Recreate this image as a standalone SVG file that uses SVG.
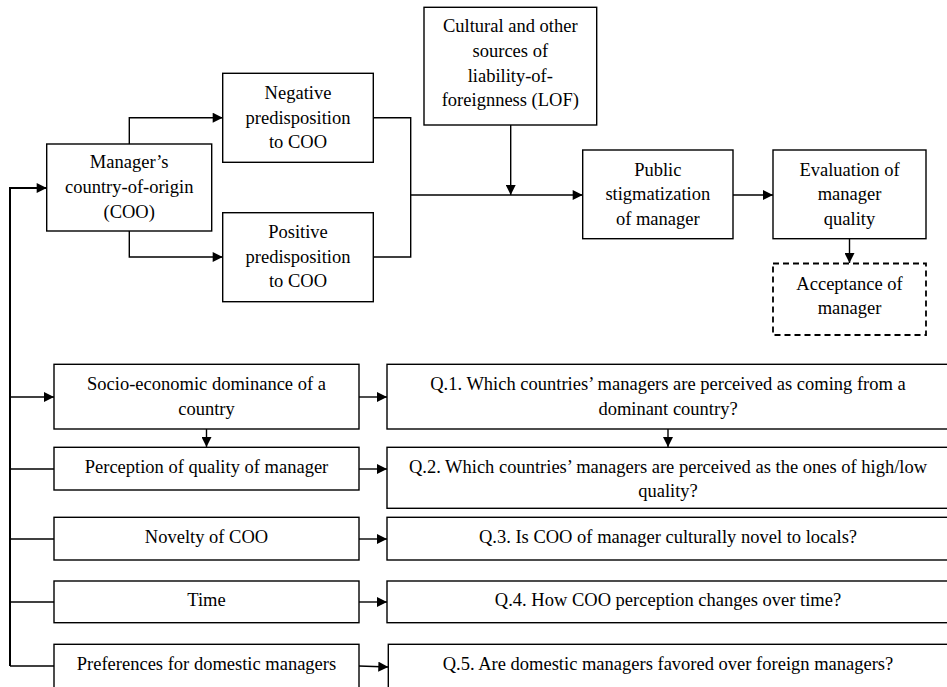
<svg xmlns="http://www.w3.org/2000/svg" width="947" height="687" viewBox="0 0 947 687" font-family="'Liberation Serif', 'Times New Roman', serif">
<defs>
<style>
.box{fill:#fff;stroke:#000;stroke-width:1.4}
.dash{fill:#fff;stroke:#000;stroke-width:1.8;stroke-dasharray:6 4}
text{font-family:'Liberation Serif','Times New Roman',serif;font-size:18.5px;fill:#000;text-anchor:middle}
.c{fill:none;stroke:#000;stroke-width:1.4}
.fb{fill:none;stroke:#000;stroke-width:2}
</style>
<marker id="arr" viewBox="0 0 10 10" refX="10" refY="5" markerWidth="11" markerHeight="10" markerUnits="userSpaceOnUse" orient="auto">
<path d="M0,0 L10,5 L0,10 z" fill="#000"/>
</marker>
</defs>
<rect width="947" height="687" fill="#fff"/>

<g id="connectors">
<path class="c" d="M129.3,144 V117.7 H222.7" marker-end="url(#arr)"/>
<path class="c" d="M129.3,231 V257 H222.7" marker-end="url(#arr)"/>
<path class="c" d="M373.3,117.7 H410.7 V257 H373.3"/>
<path class="c" d="M410.7,195 H582.7" marker-end="url(#arr)"/>
<path class="c" d="M510.7,125 V195" marker-end="url(#arr)"/>
<path class="c" d="M733,195 H773" marker-end="url(#arr)"/>
<path class="c" d="M849.5,239 V263" marker-end="url(#arr)"/>
<path class="fb" d="M10,666 V188 H46.7" marker-end="url(#arr)"/>
<path class="c" d="M10,397 H54" marker-end="url(#arr)"/>
<path class="c" d="M10,469 H54"/>
<path class="c" d="M10,539 H54"/>
<path class="c" d="M10,602 H54"/>
<path class="c" d="M10,666 H54"/>
<path class="c" d="M206.5,429 V447" marker-end="url(#arr)"/>
<path class="c" d="M668,429 V447" marker-end="url(#arr)"/>
<path class="c" d="M359,397 H387" marker-end="url(#arr)"/>
<path class="c" d="M359,469 H387" marker-end="url(#arr)"/>
<path class="c" d="M359,539 H387" marker-end="url(#arr)"/>
<path class="c" d="M359,602 H387" marker-end="url(#arr)"/>
<path class="c" d="M359,666 L388.3,667" marker-end="url(#arr)"/>
</g>

<g id="coo">
<rect class="box" x="46.7" y="144" width="165" height="87"/>
<text x="129.2" y="168">Manager’s</text>
<text x="129.2" y="193">country-of-origin</text>
<text x="129.2" y="218">(COO)</text>
</g>

<g id="negative">
<rect class="box" x="222.7" y="73.3" width="150.6" height="89"/>
<text x="298" y="99">Negative</text>
<text x="298" y="123.5">predisposition</text>
<text x="298" y="148">to COO</text>
</g>

<g id="positive">
<rect class="box" x="222.7" y="212.7" width="150.6" height="89"/>
<text x="298" y="238">Positive</text>
<text x="298" y="262.5">predisposition</text>
<text x="298" y="287">to COO</text>
</g>

<g id="lof">
<rect class="box" x="424" y="7.3" width="172.7" height="117.7"/>
<text x="510.3" y="32">Cultural and other</text>
<text x="510.3" y="57">sources of</text>
<text x="510.3" y="81.5">liability-of-</text>
<text x="510.3" y="106">foreignness (LOF)</text>
</g>

<g id="public">
<rect class="box" x="582.7" y="150" width="150.3" height="88.7"/>
<text x="657.8" y="176">Public</text>
<text x="657.8" y="200">stigmatization</text>
<text x="657.8" y="224.5">of manager</text>
</g>

<g id="evaluation">
<rect class="box" x="773" y="150" width="153" height="88.7"/>
<text x="849.5" y="176">Evaluation of</text>
<text x="849.5" y="200">manager</text>
<text x="849.5" y="224.5">quality</text>
</g>

<g id="acceptance">
<rect class="dash" x="773" y="263.5" width="153" height="71.5"/>
<text x="849.5" y="290">Acceptance of</text>
<text x="849.5" y="314">manager</text>
</g>

<g id="socio">
<rect class="box" x="54" y="364.3" width="305" height="64.7"/>
<text x="206.5" y="390">Socio-economic dominance of a</text>
<text x="206.5" y="415">country</text>
</g>

<g id="perception">
<rect class="box" x="54" y="447.3" width="305" height="42.7"/>
<text x="206.5" y="473">Perception of quality of manager</text>
</g>

<g id="novelty">
<rect class="box" x="54" y="517.3" width="305" height="42.7"/>
<text x="206.5" y="543">Novelty of COO</text>
</g>

<g id="time">
<rect class="box" x="54" y="581" width="305" height="41.7"/>
<text x="206.5" y="606">Time</text>
</g>

<g id="preferences">
<rect class="box" x="54" y="644.3" width="305" height="46"/>
<text x="206.5" y="670">Preferences for domestic managers</text>
</g>

<g id="q1">
<rect class="box" x="387" y="364.3" width="565" height="64.7"/>
<text x="668" y="390">Q.1. Which countries’ managers are perceived as coming from a</text>
<text x="668" y="415">dominant country?</text>
</g>

<g id="q2">
<rect class="box" x="387" y="447.3" width="565" height="61"/>
<text x="668" y="473">Q.2. Which countries’ managers are perceived as the ones of high/low</text>
<text x="668" y="497">quality?</text>
</g>

<g id="q3">
<rect class="box" x="387" y="517.3" width="565" height="42.7"/>
<text x="668" y="543">Q.3. Is COO of manager culturally novel to locals?</text>
</g>

<g id="q4">
<rect class="box" x="387" y="581" width="565" height="41.7"/>
<text x="668" y="606">Q.4. How COO perception changes over time?</text>
</g>

<g id="q5">
<rect class="box" x="388.3" y="644.3" width="565" height="46"/>
<text x="668" y="670">Q.5. Are domestic managers favored over foreign managers?</text>
</g>
</svg>
